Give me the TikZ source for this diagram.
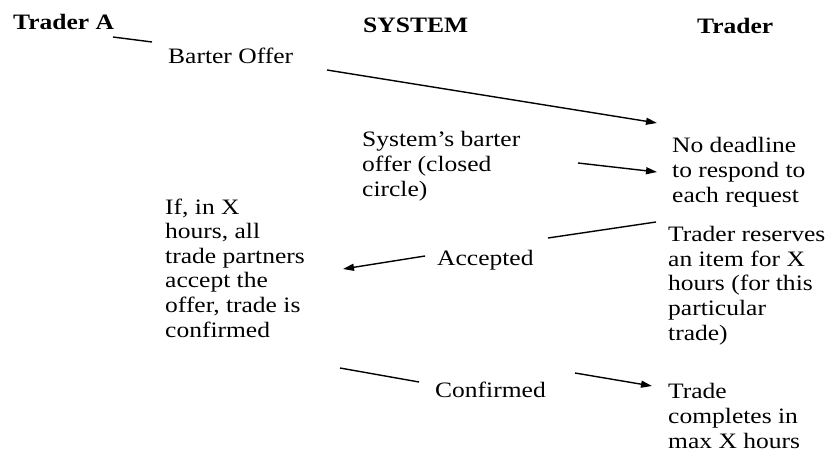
\documentclass[tikz,border=0pt]{standalone}
\usepackage{fontspec}
\setmainfont[FakeStretch=1.16]{Liberation Serif}
\usetikzlibrary{arrows.meta}
\begin{document}
\begin{tikzpicture}[x=1pt,y=-1pt,
  txt/.style={inner sep=0pt, anchor=base west, align=left,
    font=\fontsize{22}{24.6}\selectfont},
  head/.style={txt, font=\fontsize{22}{24.6}\selectfont\bfseries},
  link/.style={line width=1.4pt},
  arr/.style={link, -{Triangle[length=11pt,width=7pt]}}]
\useasboundingbox (0,0) rectangle (833,455);
% column headings
\node[head] (ta) at (13,29) {Trader A};
\node[head] (sys) at (363,32) {SYSTEM};
\node[head] (tr) at (697,33) {Trader};
% texts (multi-line nodes are placed by the baseline of their last line)
\node[txt] (barter) at (168,63) {Barter Offer};
\node[txt] (sysoffer) at (362,196) {System’s barter\\offer (closed\\circle)};
\node[txt] (nodead) at (672,202) {No deadline\\to respond to\\each request};
\node[txt] (ifx) at (165,337) {If, in X\\hours, all\\trade partners\\accept the\\offer, trade is\\confirmed};
\node[txt] (acc) at (437,265) {Accepted};
\node[txt] (reserve) at (668,340) {Trader reserves\\an item for X\\hours (for this\\particular\\trade)};
\node[txt] (conf) at (435,397) {Confirmed};
\node[txt] (compl) at (668,448) {Trade\\completes in\\max X hours};
% connector ends
\coordinate (c1a) at (113,37);  \coordinate (c1b) at (152,42);
\coordinate (c2a) at (327,70);  \coordinate (c2b) at (657,123);
\coordinate (c3a) at (578,163); \coordinate (c3b) at (657,172);
\coordinate (c4a) at (656,222); \coordinate (c4b) at (548,238);
\coordinate (c5a) at (425,256); \coordinate (c5b) at (343,269);
\coordinate (c6a) at (340,368); \coordinate (c6b) at (419,382);
\coordinate (c7a) at (575,373); \coordinate (c7b) at (652,386);
% connectors
\draw[link] (c1a) -- (c1b);
\draw[arr] (c2a) -- (c2b);
\draw[arr] (c3a) -- (c3b);
\draw[link] (c4a) -- (c4b);
\draw[arr] (c5a) -- (c5b);
\draw[link] (c6a) -- (c6b);
\draw[arr] (c7a) -- (c7b);
\end{tikzpicture}
\end{document}
